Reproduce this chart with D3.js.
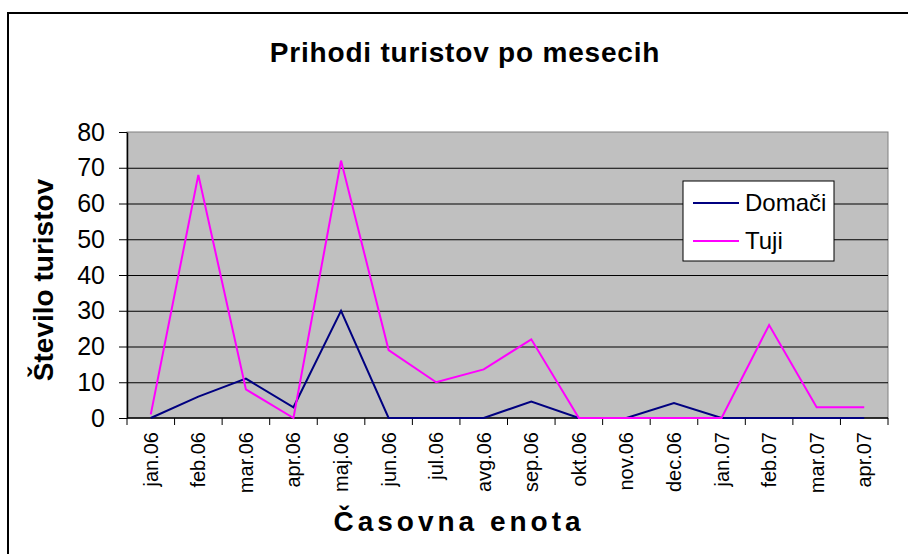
<!DOCTYPE html>
<html lang="sl">
<head>
    <meta charset="UTF-8">
    <title>Prihodi turistov po mesecih</title>
    <script src="https://d3js.org/d3.v7.min.js"></script>
    <style>
        body {
            margin: 0;
            background: #fff;
            font-family: Arial, 'Liberation Sans', sans-serif;
        }
        svg { display: block; }
        .grid line { stroke: #000; stroke-width: 1px; }
        .grid path { display: none; }
        .axis text { fill: #000; font-family: Arial, 'Liberation Sans', sans-serif; }
        .axis line, .axis path { stroke: #000; }
    </style>
</head>
<body>
<script>
    const months = ["jan.06", "feb.06", "mar.06", "apr.06", "maj.06", "jun.06", "jul.06", "avg.06",
                    "sep.06", "okt.06", "nov.06", "dec.06", "jan.07", "feb.07", "mar.07", "apr.07"];
    const domaci = [0, 6, 11, 3, 30, 0, 0, 0, 4.6, 0, 0, 4.2, 0, 0, 0, 0];
    const tuji = [1, 68, 8, 0, 72, 19, 10, 13.6, 22, 0, 0, 0, 0, 26, 3, 3];
    const yTicks = [0, 10, 20, 30, 40, 50, 60, 70, 80];

    const W = 908, H = 554;
    const plot = { left: 127, top: 132, right: 888, bottom: 418 };

    const svg = d3.select("body").append("svg")
        .attr("width", W)
        .attr("height", H);

    // outer frame (cut off at right and bottom, as in the original)
    svg.append("rect")
        .attr("x", 8).attr("y", 13)
        .attr("width", W + 10).attr("height", H + 10)
        .attr("fill", "#fff")
        .attr("stroke", "#000")
        .attr("stroke-width", 2);

    const x = d3.scaleBand()
        .domain(months)
        .range([plot.left, plot.right]);

    const y = d3.scaleLinear()
        .domain([0, 80])
        .range([plot.bottom, plot.top]);

    // plot background
    svg.append("rect")
        .attr("x", plot.left).attr("y", plot.top)
        .attr("width", plot.right - plot.left)
        .attr("height", plot.bottom - plot.top)
        .attr("fill", "#c0c0c0")
        .attr("stroke", "#808080")
        .attr("stroke-width", 1);

    svg.append("g")
        .attr("class", "grid")
        .attr("transform", `translate(${plot.left},0)`)
        .call(d3.axisLeft(y).tickValues(yTicks.slice(1, -1)).tickSize(-(plot.right - plot.left)).tickFormat(""));

    // y axis
    const yAxis = svg.append("g")
        .attr("class", "axis")
        .attr("transform", `translate(${plot.left},0)`)
        .call(d3.axisLeft(y).tickValues(yTicks).tickSize(8).tickPadding(14).tickSizeOuter(0));
    yAxis.selectAll("text").style("font-size", "25px");
    yAxis.select(".domain").attr("stroke-width", 1.5);

    // x axis: ticks on category boundaries
    const xAxis = svg.append("g")
        .attr("class", "axis")
        .attr("transform", `translate(0,${plot.bottom})`);
    xAxis.append("line")
        .attr("x1", plot.left).attr("x2", plot.right)
        .attr("stroke", "#000").attr("stroke-width", 1.5);
    xAxis.selectAll(".tick-b")
        .data(months.concat(["end"]))
        .join("line")
        .attr("x1", (d, i) => plot.left + i * x.bandwidth())
        .attr("x2", (d, i) => plot.left + i * x.bandwidth())
        .attr("y1", 0).attr("y2", 7)
        .attr("stroke", "#000");
    xAxis.selectAll(".lbl")
        .data(months)
        .join("text")
        .attr("transform", d => `translate(${x(d) + x.bandwidth() / 2},14) rotate(-90)`)
        .attr("text-anchor", "end")
        .attr("dy", "0.35em")
        .style("font-size", "20px")
        .text(d => d);

    const line = d3.line()
        .x((d, i) => x(months[i]) + x.bandwidth() / 2)
        .y(d => y(d));

    svg.append("path")
        .datum(domaci)
        .attr("fill", "none")
        .attr("stroke", "#000080")
        .attr("stroke-width", 2)
        .attr("d", line);

    svg.append("path")
        .datum(tuji)
        .attr("fill", "none")
        .attr("stroke", "#ff00ff")
        .attr("stroke-width", 2)
        .attr("d", line);

    // title
    svg.append("text")
        .attr("x", 465).attr("y", 62)
        .attr("text-anchor", "middle")
        .style("font-size", "28px")
        .style("font-weight", "bold")
        .style("letter-spacing", "0.8px")
        .text("Prihodi turistov po mesecih");

    svg.append("text")
        .attr("x", 459).attr("y", 531)
        .attr("text-anchor", "middle")
        .style("font-size", "28px")
        .style("font-weight", "bold")
        .style("letter-spacing", "4px")
        .text("Časovna enota");

    svg.append("text")
        .attr("transform", "translate(53,280) rotate(-90)")
        .attr("text-anchor", "middle")
        .style("font-size", "28px")
        .style("font-weight", "bold")
        .text("Število turistov");

    // legend
    const legend = svg.append("g").attr("transform", "translate(683,181)");
    legend.append("rect")
        .attr("width", 151).attr("height", 80)
        .attr("fill", "#fff")
        .attr("stroke", "#000");
    const series = [["Domači", "#000080"], ["Tuji", "#ff00ff"]];
    series.forEach(([name, color], i) => {
        const ly = 22 + i * 38;
        legend.append("line")
            .attr("x1", 10).attr("x2", 56)
            .attr("y1", ly).attr("y2", ly)
            .attr("stroke", color).attr("stroke-width", 2);
        legend.append("text")
            .attr("x", 62).attr("y", ly)
            .attr("dy", "0.35em")
            .style("font-size", "24px")
            .text(name);
    });
</script>
</body>
</html>
